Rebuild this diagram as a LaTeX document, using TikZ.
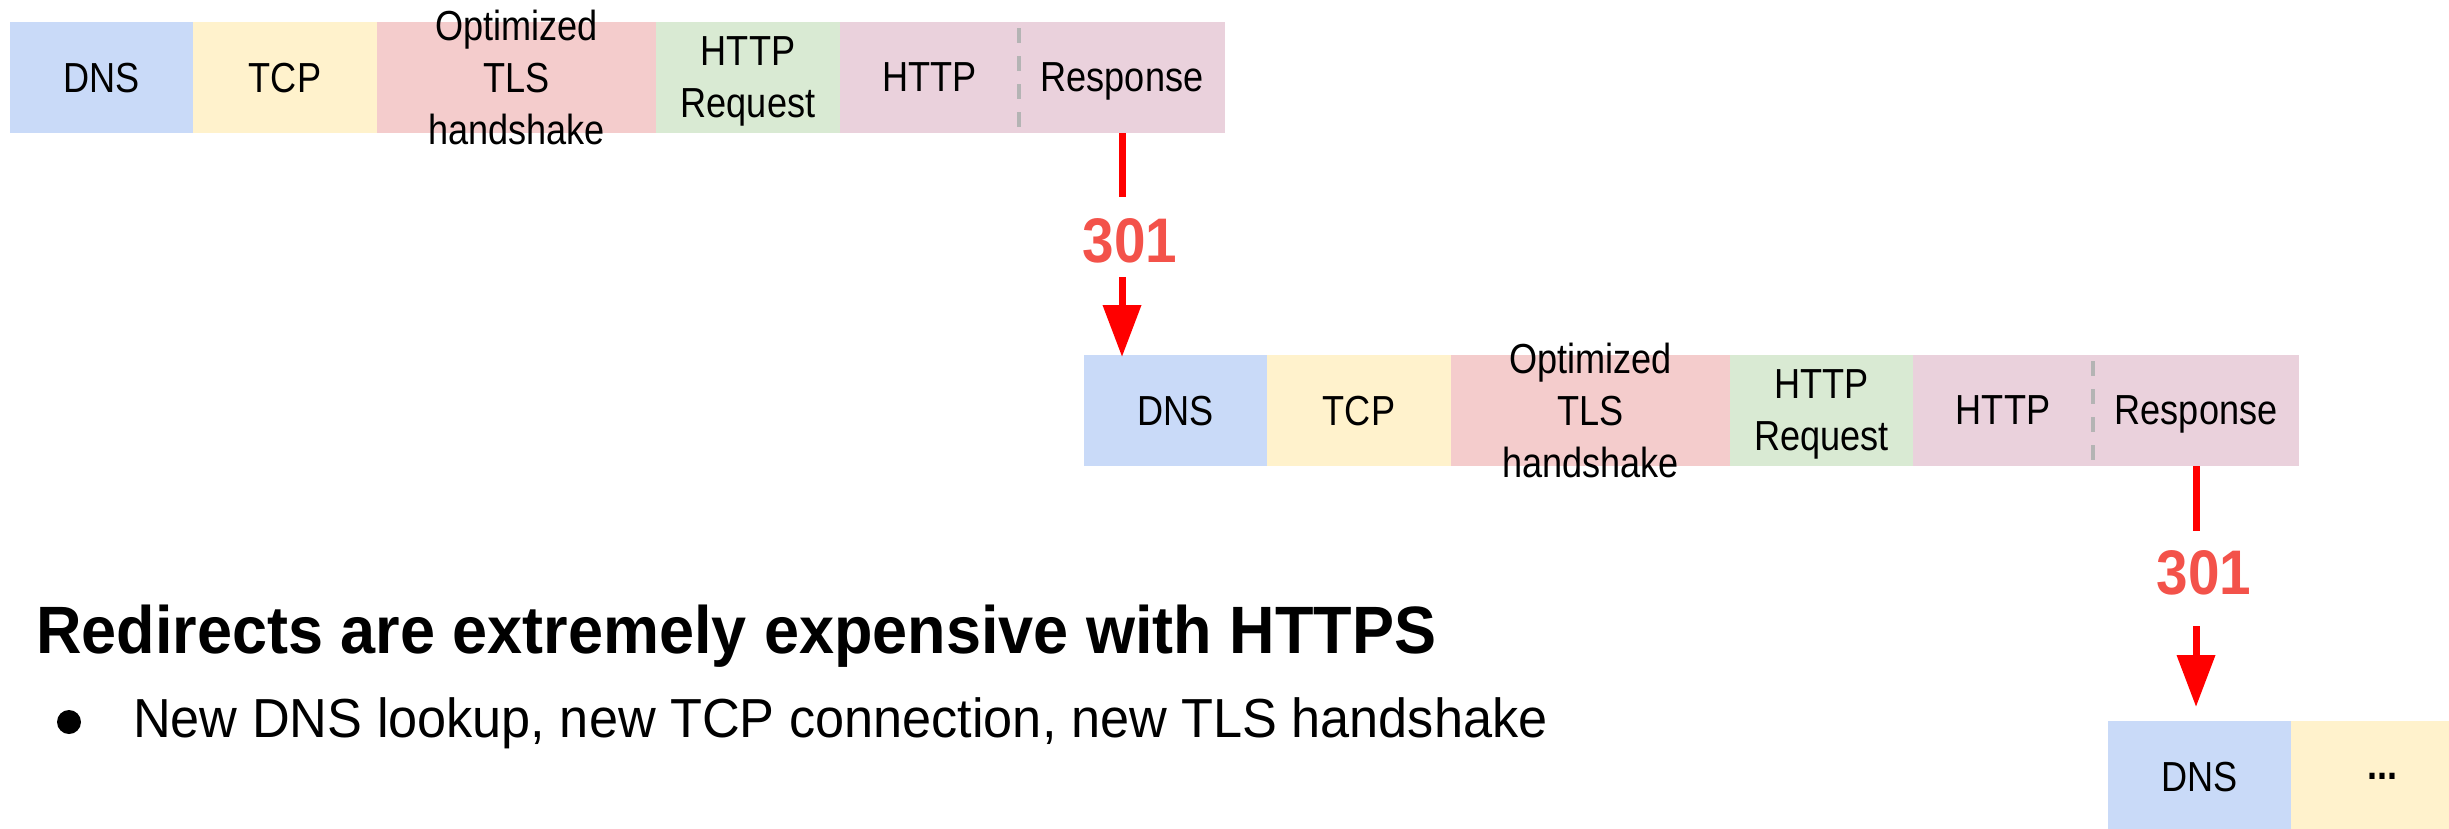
\documentclass[tikz,border=0pt]{standalone}
\usepackage{fontspec}
\setmainfont{Liberation Sans}
\newfontfamily\stagefont{Liberation Sans}[FakeStretch=0.86]
\newfontfamily\headfont{Liberation Sans}[FakeStretch=0.94]
\newfontfamily\pointfont{Liberation Sans}[FakeStretch=0.95]
\newfontfamily\codefont{Liberation Sans}[FakeStretch=0.9]
\definecolor{dnsblue}{RGB}{201, 218, 248}
\definecolor{tcpyellow}{RGB}{255, 242, 204}
\definecolor{tlsred}{RGB}{244, 204, 204}
\definecolor{reqgreen}{RGB}{217, 234, 211}
\definecolor{resppink}{RGB}{234, 209, 220}
\definecolor{dividergray}{RGB}{180, 180, 180}
\definecolor{codered}{RGB}{243, 82, 74}
\definecolor{arrowred}{RGB}{255, 0, 0}
\usetikzlibrary{
  arrows.meta,
  positioning,
}
\tikzset{
  stage/.style={rectangle, inner sep=0pt, outer sep=0pt, minimum height=111pt,
    align=center, text depth=0pt, font=\stagefont\fontsize{42}{52}\selectfont},
  stagetext/.style={align=center, text depth=0pt, font=\stagefont\fontsize{42}{52}\selectfont},
  divider/.style={draw=dividergray, line width=3.5pt, dash pattern=on 15pt off 13pt},
  code/.style={inner sep=0pt, outer sep=0pt, text height=45pt, text depth=0pt, text=codered,
    font=\codefont\bfseries\fontsize{63}{63}\selectfont},
  redirect/.style={draw=arrowred, line width=7pt},
  redirecttip/.style={redirect, -{Triangle[length=52pt,width=37pt]}},
}

\begin{document}
\begin{tikzpicture}[x=1pt, y=-1pt, node distance=0mm and 0mm]
        \useasboundingbox (0,0) rectangle (2449,828);

        % first request
        \node[stage,anchor=north west,minimum width=183pt,fill=dnsblue]    (dns1) at (10,22)    {DNS};
        \node[stage,minimum width=184pt,fill=tcpyellow]    (tcp1)  [right=of dns1]      {TCP};
        \node[stage,minimum width=279pt,fill=tlsred,label={[stagetext]center:Optimized\\TLS\\handshake}]    (tls1)    [right=of tcp1]    {};
        \node[stage,minimum width=184pt,fill=reqgreen]    (req1) [right=of tls1]       {HTTP\\Request};
        \node[stage,minimum width=179pt,fill=resppink]    (http1)    [right=of req1]    {HTTP};
        \node[stage,minimum width=206pt,fill=resppink]    (resp1)    [right=of http1]    {Response};
        \draw[divider] ([yshift=-6pt]http1.north east) -- ([yshift=6pt]http1.south east);

        % second request
        \node[stage,anchor=north west,minimum width=183pt,fill=dnsblue]    (dns2) at (1084,355)    {DNS};
        \node[stage,minimum width=184pt,fill=tcpyellow]    (tcp2)  [right=of dns2]      {TCP};
        \node[stage,minimum width=279pt,fill=tlsred,label={[stagetext]center:Optimized\\TLS\\handshake}]    (tls2)    [right=of tcp2]    {};
        \node[stage,minimum width=183pt,fill=reqgreen]    (req2) [right=of tls2]       {HTTP\\Request};
        \node[stage,minimum width=180pt,fill=resppink]    (http2)    [right=of req2]    {HTTP};
        \node[stage,minimum width=206pt,fill=resppink]    (resp2)    [right=of http2]    {Response};
        \draw[divider] ([yshift=-6pt]http2.north east) -- ([yshift=6pt]http2.south east);

        % third request
        \node[stage,anchor=north west,minimum width=183pt,fill=dnsblue]    (dns3) at (2108,721)    {DNS};
        \node[stage,minimum width=183pt,fill=tcpyellow]    (more3)  [right=of dns3]      {\bfseries ...};

        % redirects
        \node[code,below=84pt of resp1,xshift=8pt] (code1) {301};
        \draw[redirect,shorten >=20pt] (resp1.south) -- (resp1.south |- code1.north);
        \draw[redirecttip,shorten <=15pt,shorten >=-2pt] (resp1.south |- code1.south) -- (resp1.south |- dns2.north);

        \node[code,below=83pt of resp2,xshift=8pt] (code2) {301};
        \draw[redirect,shorten >=18pt] (resp2.south) -- (resp2.south |- code2.north);
        \draw[redirecttip,shorten <=32pt,shorten >=14pt] (resp2.south |- code2.south) -- (resp2.south |- dns3.north);

        % text
        \node[anchor=base west,inner sep=0pt,font=\headfont\bfseries\fontsize{67}{80}\selectfont] (title) at (36,653) {Redirects are extremely expensive with HTTPS};
        \node[circle,fill,minimum size=24pt,inner sep=0pt] (dot) at (69,722) {};
        \node[anchor=base west,inner sep=0pt,font=\pointfont\fontsize{55}{66}\selectfont] (point) at (133,737) {New DNS lookup, new TCP connection, new TLS handshake};
    \end{tikzpicture}
\end{document}
